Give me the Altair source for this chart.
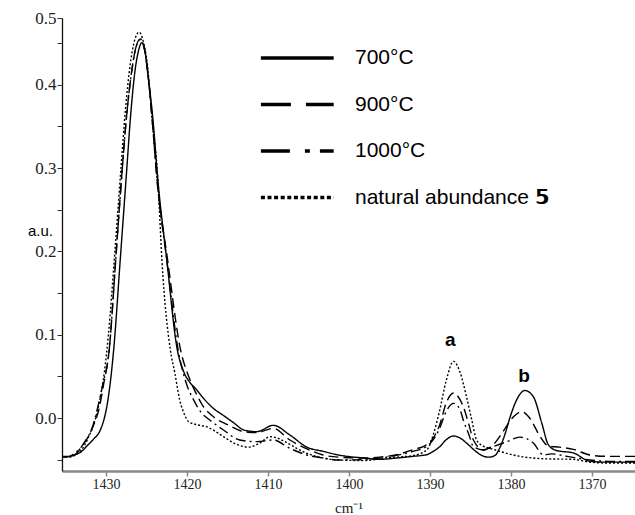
import altair as alt
import pandas as pd

# ---- data ----
series_names = ["700°C", "900°C", "1000°C", "natural abundance 𝟱"]

wn_700 = [1435.4, 1434.5, 1433.8, 1433.0, 1432.4, 1431.6, 1430.7, 1430.2, 1429.9, 1429.5,
          1429.05, 1428.24, 1427.44, 1427.0, 1426.4, 1426.05, 1425.56, 1425.15, 1424.9, 1424.2,
          1423.6, 1422.5, 1421.2, 1420.5, 1419.6, 1419.0, 1418.0, 1416.8, 1415.5, 1414.2,
          1413.0, 1411.4, 1409.35, 1407.3, 1405.2, 1403.2, 1401.3, 1398.2, 1396.2, 1394.1,
          1392.1, 1390.4, 1389.6, 1388.8, 1388.0, 1387.1, 1386.3, 1385.5, 1384.6, 1383.8,
          1382.8, 1382.0, 1381.4, 1380.7, 1380.1, 1379.1, 1378.3, 1377.25, 1376.2, 1375.4,
          1374.4, 1372.3, 1370.25, 1368.0, 1364.7]
ab_700 = [-0.046, -0.046, -0.044, -0.040, -0.034, -0.026, -0.0144, 0.000, 0.0136, 0.040,
          0.082, 0.190, 0.298, 0.358, 0.418, 0.438, 0.4505, 0.438, 0.418, 0.358,
          0.286, 0.190, 0.082, 0.058, 0.042, 0.036, 0.024, 0.012, 0.003, -0.006,
          -0.0144, -0.0164, -0.0088, -0.0204, -0.035, -0.040, -0.0444, -0.048, -0.0496, -0.048,
          -0.046, -0.044, -0.040, -0.0344, -0.026, -0.0216, -0.024, -0.030, -0.038, -0.044,
          -0.047, -0.045, -0.036, -0.018, 0.0016, 0.0256, 0.033, 0.0256, -0.0064, -0.032,
          -0.039, -0.042, -0.052, -0.053, -0.053]

wn_900 = [1435.4, 1434.5, 1433.8, 1433.0, 1432.4, 1431.8, 1430.8, 1430.3, 1429.6, 1428.8,
          1428.0, 1427.5, 1426.8, 1426.3, 1425.75, 1425.2, 1424.9, 1424.3, 1423.7, 1422.4,
          1420.8, 1419.8, 1418.9, 1418.0, 1416.75, 1415.0, 1413.0, 1411.4, 1409.35, 1407.3,
          1405.2, 1403.2, 1401.3, 1398.2, 1396.2, 1394.1, 1392.1, 1390.4, 1389.6, 1388.8,
          1388.0, 1387.1, 1386.3, 1385.9, 1385.2, 1384.65, 1383.4, 1382.2, 1381.0, 1379.7,
          1378.7, 1377.7, 1376.4, 1375.4, 1374.0, 1372.3, 1370.25, 1368.2, 1364.7]
ab_900 = [-0.047, -0.046, -0.044, -0.034, -0.026, -0.0144, 0.0136, 0.040, 0.082, 0.190,
          0.298, 0.358, 0.418, 0.445, 0.455, 0.440, 0.420, 0.358, 0.286, 0.190,
          0.082, 0.050, 0.030, 0.014, 0.0016, -0.008, -0.0164, -0.0175, -0.0124, -0.0264,
          -0.037, -0.0444, -0.047, -0.048, -0.047, -0.044, -0.038, -0.032, -0.024, -0.008,
          0.018, 0.030, 0.022, 0.0136, -0.008, -0.0264, -0.0384, -0.032, -0.0164, 0.0016,
          0.0076, 0.000, -0.0224, -0.0336, -0.035, -0.0376, -0.0444, -0.046, -0.046]

wn_1000 = [1435.4, 1434.5, 1433.6, 1433.0, 1432.4, 1431.8, 1431.0, 1430.4, 1429.6, 1428.8,
           1428.0, 1427.5, 1426.8, 1426.3, 1425.75, 1425.2, 1424.9, 1424.3, 1423.7, 1422.5,
           1421.1, 1420.2, 1419.2, 1418.2, 1417.2, 1415.5, 1413.5, 1411.4, 1409.35, 1407.3,
           1405.2, 1403.2, 1401.3, 1398.2, 1395.5, 1392.1, 1390.4, 1389.6, 1388.8, 1388.0,
           1387.1, 1386.3, 1385.9, 1385.2, 1384.65, 1383.4, 1382.2, 1380.5, 1378.9, 1377.25,
           1376.0, 1375.0, 1373.1, 1370.25, 1368.0, 1364.7]
ab_1000 = [-0.047, -0.046, -0.040, -0.034, -0.025, -0.0144, 0.0136, 0.040, 0.082, 0.190,
           0.298, 0.358, 0.418, 0.445, 0.454, 0.440, 0.420, 0.358, 0.286, 0.190,
           0.082, 0.045, 0.022, 0.006, -0.0024, -0.0144, -0.0264, -0.0284, -0.0264, -0.0364,
           -0.0444, -0.048, -0.0504, -0.050, -0.047, -0.040, -0.034, -0.026, -0.012, 0.008,
           0.0176, 0.010, -0.0024, -0.020, -0.0344, -0.0384, -0.0344, -0.0284, -0.023, -0.030,
           -0.0444, -0.043, -0.046, -0.0504, -0.052, -0.052]

wn_nat = [1435.4, 1434.5, 1433.6, 1433.0, 1432.2, 1431.4, 1430.7, 1430.2, 1429.7, 1428.9,
          1428.15, 1427.6, 1427.0, 1426.5, 1425.9, 1425.4, 1424.9, 1424.3, 1423.6, 1423.1,
          1422.06, 1421.5, 1420.9, 1420.3, 1419.8, 1418.6, 1417.6, 1416.5, 1415.5, 1414.0,
          1412.4, 1411.0, 1409.75, 1408.6, 1407.7, 1405.2, 1403.2, 1401.3, 1398.2, 1395.5,
          1392.1, 1390.4, 1389.6, 1388.8, 1388.0, 1387.1, 1386.3, 1385.5, 1384.9, 1384.25,
          1383.4, 1382.6, 1381.4, 1378.9, 1375.6, 1372.3, 1370.25, 1368.0, 1364.7]
ab_nat = [-0.047, -0.047, -0.043, -0.038, -0.024, -0.004, 0.025, 0.055, 0.100, 0.200,
          0.300, 0.370, 0.425, 0.452, 0.463, 0.452, 0.425, 0.358, 0.286, 0.190,
          0.082, 0.054, 0.0216, 0.004, -0.0044, -0.0084, -0.0104, -0.016, -0.0224, -0.031,
          -0.035, -0.030, -0.0224, -0.025, -0.0296, -0.0424, -0.048, -0.0504, -0.051, -0.048,
          -0.045, -0.0384, -0.020, 0.0096, 0.045, 0.068, 0.055, 0.0256, 0.000, -0.0264,
          -0.034, -0.0364, -0.040, -0.046, -0.049, -0.0496, -0.053, -0.054, -0.054]

peak_labels = ["a", "b"]
peak_wn = [1387.5, 1378.4]
peak_ab = [0.094, 0.050]

x_ticks = [1430, 1420, 1410, 1400, 1390, 1380, 1370]
y_ticks = [-0.05, 0.0, 0.05, 0.1, 0.15, 0.2, 0.25, 0.3, 0.35, 0.4, 0.45, 0.48]

plot_dashes = [[1, 0], [10, 5], [10, 4, 2, 4], [2, 2]]
legend_dashes = [[1, 0], [30, 15], [29, 15, 5, 10], [4, 2.6]]

# ---- build table ----
frames = []
for name, wn, ab in zip(series_names, [wn_700, wn_900, wn_1000, wn_nat],
                        [ab_700, ab_900, ab_1000, ab_nat]):
    frames.append(pd.DataFrame({"wn": wn, "ab": ab, "series": name}))
df = pd.concat(frames, ignore_index=True)
ann = pd.DataFrame({"wn": peak_wn, "ab": peak_ab, "label": peak_labels})

x_scale = alt.Scale(domain=[1364.7, 1435.43], reverse=True, nice=False, zero=False)
y_scale = alt.Scale(domain=[-0.0636, 0.48], nice=False, zero=False)

y_label_expr = ("datum.value > 0.47 ? '0.5' : "
                "(abs(datum.value*10 - round(datum.value*10)) < 0.001 ? format(datum.value, '.1f') : '')")

serif = "Liberation Serif, Times New Roman, serif"

x_enc = alt.X("wn:Q", scale=x_scale,
              axis=alt.Axis(values=x_ticks, format="d", title="cm⁻¹", grid=False,
                            labelFont=serif, labelFontSize=14, labelColor="#222",
                            labelPadding=1, tickSize=5, tickColor="#888", tickWidth=1.5,
                            domainColor="#888", domainWidth=2.5,
                            titleFont=serif, titleFontSize=15, titleFontWeight="normal",
                            titleColor="#222", titlePadding=9))
y_enc = alt.Y("ab:Q", scale=y_scale,
              axis=alt.Axis(values=y_ticks, labelExpr=y_label_expr, title="a.u.", grid=False,
                            labelFont=serif, labelFontSize=17, labelColor="#222",
                            labelPadding=1, tickSize=5, tickColor="#333", tickWidth=1,
                            domainColor="#111", domainWidth=1.3,
                            titleFont="Liberation Sans", titleFontSize=15, titleFontWeight="normal",
                            titleColor="black", titleAngle=0, titleAlign="center",
                            titleBaseline="middle", titleX=-22, titleY=212))

lines = alt.Chart(df).mark_line(interpolate="monotone", color="black", strokeWidth=1.4).encode(
    x=x_enc, y=y_enc,
    strokeDash=alt.StrokeDash("series:N",
                              scale=alt.Scale(domain=series_names, range=plot_dashes),
                              legend=None),
    order=alt.Order("wn:Q"),
)

# invisible copy of the lines that only carries the legend (with legend-sized dashes)
legend_layer = alt.Chart(df).mark_line(interpolate="monotone", color="black", opacity=0).encode(
    x=alt.X("wn:Q", scale=x_scale),
    y=alt.Y("ab:Q", scale=y_scale),
    strokeDash=alt.StrokeDash(
        "series:N",
        scale=alt.Scale(domain=series_names, range=legend_dashes),
        legend=alt.Legend(title=None, orient="none", legendX=197, legendY=29,
                          symbolType="M-1,0H7", symbolSize=331, symbolStrokeWidth=3.5,
                          symbolStrokeColor="black", symbolOpacity=1,
                          labelFont="Liberation Sans",
                          labelFontSize=21, labelColor="black", labelOffset=74,
                          labelLimit=0, rowPadding=25.5)),
    order=alt.Order("wn:Q"),
)

text = alt.Chart(ann).mark_text(font="Liberation Sans", fontSize=19, fontWeight="bold",
                                color="black", baseline="middle", align="center").encode(
    x=alt.X("wn:Q", scale=x_scale),
    y=alt.Y("ab:Q", scale=y_scale),
    text="label:N",
)

chart = alt.layer(lines, legend_layer, text).resolve_scale(strokeDash="independent").properties(
    width=573, height=453,
    autosize=alt.AutoSizeParams(type="none"),
    padding={"left": 62, "top": 18, "right": 0, "bottom": 44},
).configure_view(stroke=None)

chart.save("out.html", embed_options={"renderer": "svg", "actions": False})
